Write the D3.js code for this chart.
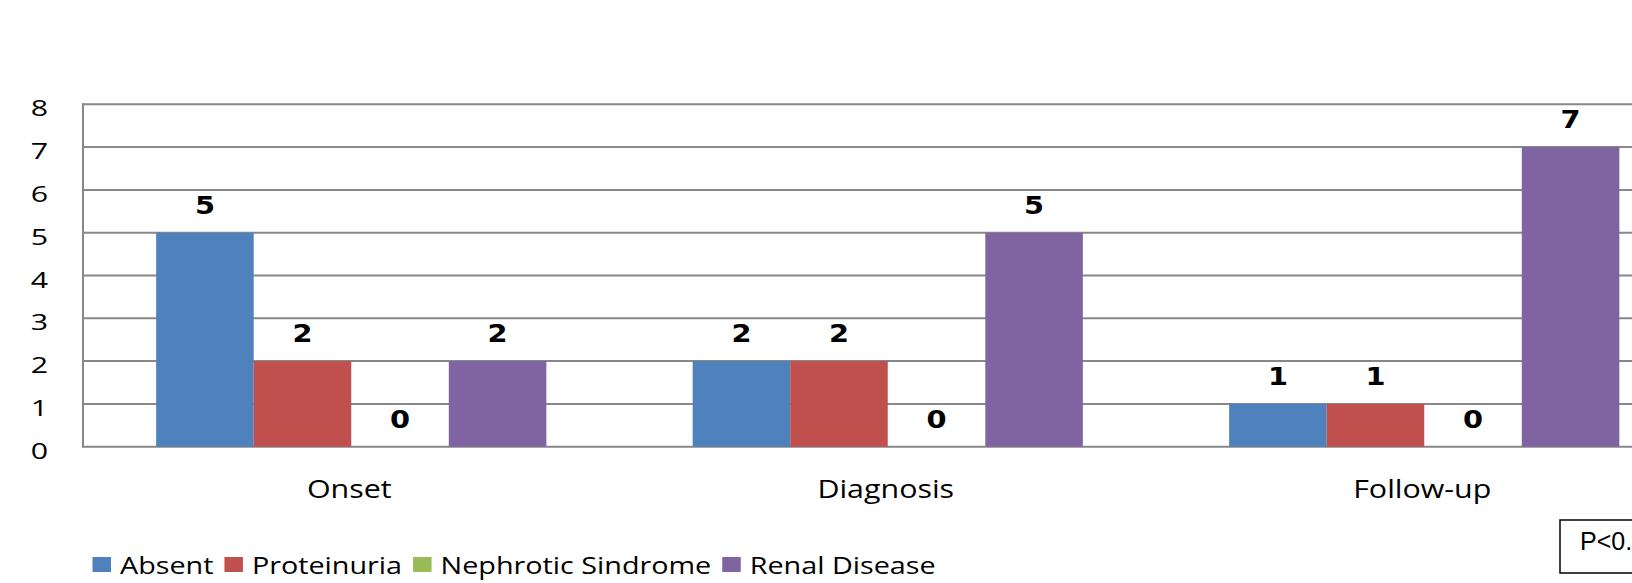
<!DOCTYPE html>
<html>
<head>
<meta charset="utf-8">
<script src="https://cdn.jsdelivr.net/npm/d3@7"></script>
<style>
  html, body { margin: 0; padding: 0; background: #fff; overflow: hidden; }
  svg { display: block; overflow: hidden; }
</style>
</head>
<body>
<svg id="chart" width="1632" height="583"></svg>
<script>
// Renal involvement by disease phase
const categories = ["Onset", "Diagnosis", "Follow-up"];
const seriesNames = ["Absent", "Proteinuria", "Nephrotic Sindrome", "Renal Disease"];
const absent = [5, 2, 1];
const proteinuria = [2, 2, 1];
const nephrotic = [0, 0, 0];
const renalDisease = [2, 5, 7];
const yTicks = [0, 1, 2, 3, 4, 5, 6, 7, 8];
const colors = ["#4F81BD", "#C0504D", "#9BBB59", "#8064A2"];
const pValueText = "P<0.05";

const seriesValues = [absent, proteinuria, nephrotic, renalDisease];

const svg = d3.select("#chart");

// Plot area (the right part runs past the visible frame)
const plot = { left: 83, top: 104.3, bottom: 446.7, bandWidth: 536.5 };
const plotRight = plot.left + plot.bandWidth * categories.length;

const x0 = d3.scaleBand()
  .domain(categories)
  .range([plot.left, plotRight])
  .paddingInner(0)
  .paddingOuter(0);

const x1 = d3.scaleBand()
  .domain(seriesNames)
  .range([0, x0.bandwidth()])
  .paddingInner(0)
  .paddingOuter(0.75);

const y = d3.scaleLinear()
  .domain([0, 8])
  .range([plot.bottom, plot.top]);

const gridColor = "#888888";
const sansFont = "'Open Sans', sans-serif";

// Text is drawn a little wide; each label gets its own horizontal stretch
const stretched = (x, yy, s) => `translate(${x},${yy}) scale(${s},1)`;

// Horizontal gridlines
svg.append("g")
  .selectAll("line")
  .data(yTicks)
  .join("line")
  .attr("x1", plot.left)
  .attr("x2", plotRight)
  .attr("y1", d => y(d))
  .attr("y2", d => y(d))
  .attr("stroke", gridColor)
  .attr("stroke-width", 2);

// Left axis line
svg.append("line")
  .attr("x1", plot.left).attr("x2", plot.left)
  .attr("y1", y(8) - 1).attr("y2", y(0) + 1)
  .attr("stroke", gridColor)
  .attr("stroke-width", 2);

// Y tick labels
svg.append("g")
  .selectAll("text")
  .data(yTicks)
  .join("text")
  .attr("transform", d => stretched(48, y(d) + 12, 1.35))
  .attr("text-anchor", "end")
  .attr("font-family", sansFont)
  .attr("font-size", 22.5)
  .attr("fill", "#000")
  .text(d => d);

// Bars
const rows = categories.map((c, i) => ({
  category: c,
  values: seriesNames.map((s, j) => ({ series: s, value: seriesValues[j][i], color: colors[j] }))
}));

const groups = svg.append("g")
  .selectAll("g")
  .data(rows)
  .join("g")
  .attr("transform", d => `translate(${x0(d.category)},0)`);

groups.selectAll("rect")
  .data(d => d.values)
  .join("rect")
  .attr("x", d => x1(d.series))
  .attr("y", d => y(d.value))
  .attr("width", x1.bandwidth())
  .attr("height", d => y(0) - y(d.value))
  .attr("fill", d => d.color);

// Value labels
groups.selectAll("text")
  .data(d => d.values)
  .join("text")
  .attr("transform", d => stretched(x1(d.series) + x1.bandwidth() / 2, y(d.value) - 19, 1.2))
  .attr("text-anchor", "middle")
  .attr("font-family", "'DejaVu Sans', sans-serif")
  .attr("font-weight", "bold")
  .attr("font-size", 24)
  .attr("fill", "#000")
  .text(d => d.value);

// Category labels
svg.append("g")
  .selectAll("text")
  .data(categories)
  .join("text")
  .attr("transform", d => stretched(x0(d) + x0.bandwidth() / 2 - 2, 498, 1.17))
  .attr("text-anchor", "middle")
  .attr("font-family", sansFont)
  .attr("font-size", 26)
  .attr("fill", "#000")
  .text(d => d);

// Legend
const legend = svg.append("g");
const sqW = 18.5, sqH = 15, legendScale = 1.25;
let lx = 92.5;
seriesNames.forEach((name, i) => {
  legend.append("rect")
    .attr("x", lx).attr("y", 557)
    .attr("width", sqW).attr("height", sqH)
    .attr("fill", colors[i]);
  const tx = lx + sqW + 9;
  const t = legend.append("text")
    .attr("transform", stretched(tx, 573.5, legendScale))
    .attr("font-family", sansFont)
    .attr("font-size", 23)
    .attr("fill", "#000")
    .text(name);
  lx = tx + t.node().getComputedTextLength() * legendScale + 11;
});

// p-value box
const pBox = svg.append("g");
pBox.append("rect")
  .attr("x", 1560).attr("y", 520)
  .attr("width", 130).attr("height", 53)
  .attr("fill", "#fff")
  .attr("stroke", "#000")
  .attr("stroke-width", 1.5);
pBox.append("text")
  .attr("x", 1580).attr("y", 550)
  .attr("font-family", "'Liberation Sans', Arial, sans-serif")
  .attr("font-size", 25)
  .attr("fill", "#000")
  .text(pValueText);
</script>
</body>
</html>
